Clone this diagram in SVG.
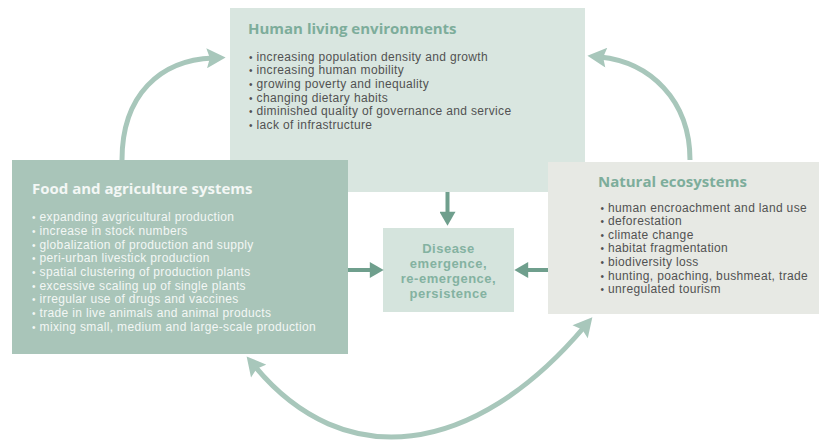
<svg xmlns="http://www.w3.org/2000/svg" width="819" height="444" viewBox="0 0 819 444">
<style>
  .title{font-family:"Open Sans","Liberation Sans",sans-serif;font-weight:bold;font-size:15px}
  .body{font-family:"Liberation Sans",Arial,sans-serif;font-size:12px;letter-spacing:0.35px}
  .dark{fill:#525252}
  .light{fill:#f3f7f5}
  .teal{fill:#7dad9b}
  .b{font-size:10px}
  .dis{font-family:"Liberation Sans",Arial,sans-serif;font-weight:bold;font-size:13px;letter-spacing:0.5px;fill:#84b2a1;text-anchor:middle}
  .curve{fill:none;stroke:#a8c7bb;stroke-width:5}
  .straight{fill:none;stroke:#6f9f8d;stroke-width:4}
</style>
<defs>
  <marker id="ah" markerUnits="userSpaceOnUse" markerWidth="20" markerHeight="20" viewBox="0 0 18 19" refX="6" refY="9.5" orient="auto-start-reverse">
    <path d="M0,0 L18,9.5 L0,19 L3,9.5 z" fill="#a8c7bb"/>
  </marker>
  <marker id="sh" markerUnits="userSpaceOnUse" markerWidth="16" markerHeight="16" viewBox="0 0 13 15" refX="3" refY="7.5" orient="auto">
    <path d="M0,0 L13,7.5 L0,15 z" fill="#6f9f8d"/>
  </marker>
</defs>
<rect width="819" height="444" fill="#ffffff"/>

<g id="human">
  <rect x="230" y="8" width="355" height="184" fill="#d9e6e0"/>
  <text class="title teal" x="248" y="34">Human living environments</text>
  <g class="body dark">
    <text x="249" y="60.5"><tspan class="b">•</tspan> increasing population density and growth</text>
    <text x="249" y="74.2"><tspan class="b">•</tspan> increasing human mobility</text>
    <text x="249" y="87.9"><tspan class="b">•</tspan> growing poverty and inequality</text>
    <text x="249" y="101.6"><tspan class="b">•</tspan> changing dietary habits</text>
    <text x="249" y="115.3"><tspan class="b">•</tspan> diminished quality of governance and service</text>
    <text x="249" y="129"><tspan class="b">•</tspan> lack of infrastructure</text>
  </g>
</g>

<g id="natural">
  <rect x="548" y="162" width="271" height="152" fill="#e7e9e4"/>
  <text class="title teal" x="598" y="187">Natural ecosystems</text>
  <g class="body dark">
    <text x="600.5" y="211.5"><tspan class="b">•</tspan> human encroachment and land use</text>
    <text x="600.5" y="225.1"><tspan class="b">•</tspan> deforestation</text>
    <text x="600.5" y="238.7"><tspan class="b">•</tspan> climate change</text>
    <text x="600.5" y="252.3"><tspan class="b">•</tspan> habitat fragmentation</text>
    <text x="600.5" y="265.9"><tspan class="b">•</tspan> biodiversity loss</text>
    <text x="600.5" y="279.5"><tspan class="b">•</tspan> hunting, poaching, bushmeat, trade</text>
    <text x="600.5" y="293.1"><tspan class="b">•</tspan> unregulated tourism</text>
  </g>
</g>

<g id="food">
  <rect x="12" y="160" width="336" height="194" fill="#a9c5b9"/>
  <text class="title light" x="32" y="193.5">Food and agriculture systems</text>
  <g class="body light">
    <text x="32" y="221.2"><tspan class="b">•</tspan> expanding avgricultural production</text>
    <text x="32" y="234.9"><tspan class="b">•</tspan> increase in stock numbers</text>
    <text x="32" y="248.6"><tspan class="b">•</tspan> globalization of production and supply</text>
    <text x="32" y="262.3"><tspan class="b">•</tspan> peri-urban livestick production</text>
    <text x="32" y="276"><tspan class="b">•</tspan> spatial clustering of production plants</text>
    <text x="32" y="289.7"><tspan class="b">•</tspan> excessive scaling up of single plants</text>
    <text x="32" y="303.4"><tspan class="b">•</tspan> irregular use of drugs and vaccines</text>
    <text x="32" y="317.1"><tspan class="b">•</tspan> trade in live animals and animal products</text>
    <text x="32" y="330.8"><tspan class="b">•</tspan> mixing small, medium and large-scale production</text>
  </g>
</g>

<g id="disease">
  <rect x="383" y="228" width="131" height="84" fill="#d5e4dd"/>
  <text class="dis" x="448.5" y="252.6">Disease</text>
  <text class="dis" x="448.5" y="267.5">emergence,</text>
  <text class="dis" x="448.5" y="282.5">re-emergence,</text>
  <text class="dis" x="448.5" y="297.5">persistence</text>
</g>

<g id="connectors">
  <path class="curve" d="M122,160 C122,95 160,60 213,58" marker-end="url(#ah)"/>
  <path class="curve" d="M690,160 C690,100 650,62 600,57" marker-end="url(#ah)"/>
  <path class="curve" d="M254.7,366.2 C344,474 474,457 584.2,327" marker-start="url(#ah)" marker-end="url(#ah)"/>
  <path class="straight" d="M447.5,192 L447.5,215" marker-end="url(#sh)"/>
  <path class="straight" d="M348,270 L373,270" marker-end="url(#sh)"/>
  <path class="straight" d="M548,270 L525,270" marker-end="url(#sh)"/>
</g>
</svg>
